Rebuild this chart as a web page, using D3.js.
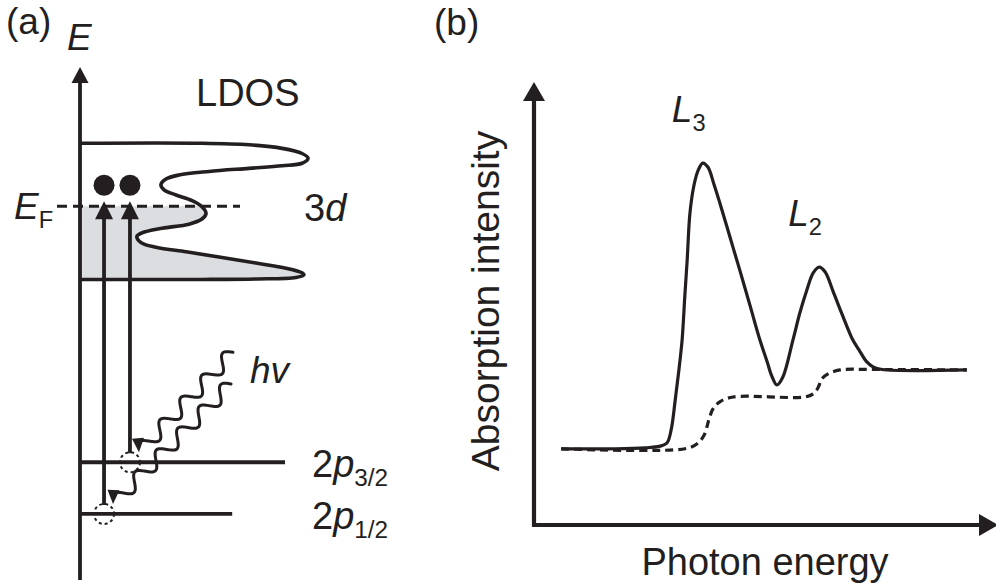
<!DOCTYPE html>
<html>
<head>
<meta charset="utf-8">
<script src="https://cdn.jsdelivr.net/npm/d3@7"></script>
<style>
  body { margin: 0; background: #fff; }
  text { font-family: "Liberation Sans", Arial, Helvetica, sans-serif; fill: #231f20; }
</style>
</head>
<body>
<div id="chart"></div>
<script>
// ---- (a) energy diagram: 3d LDOS and 2p core levels (arb. units) ----
const ldosEnergy  = [85.3, 85.3, 85.0, 84.3, 83.3, 82.4, 81.4, 80.9, 80.4, 79.8, 79.1, 78.3, 77.2, 76.2,
                     75.2, 74.1, 72.9, 71.6, 70.5, 69.5, 68.7, 67.8, 67.1, 65.9, 65.0, 64.1, 63.1, 61.9,
                     60.9, 60.0, 59.6, 59.1, 58.8, 58.7, 58.7];
const ldosDensity = [0, 50.4, 70, 83.8, 92.1, 94.6, 92.1, 83.8, 70, 53.3, 40.8, 35.4, 33.3, 34.6,
                     39.6, 46.3, 50.4, 52.1, 50.4, 45, 33.8, 25.4, 23.3, 25, 31.3, 43.8, 57.5, 72.9,
                     85.4, 92.1, 92.9, 89.6, 72.9, 50.4, 0];
const fermiEnergy = 73.0;
const coreLevels  = ["3/2", "1/2"];
const coreEnergy  = [23.0, 12.9];
const electronDensity = [20.4, 9.6];   // where each 2p -> 3d transition is drawn
const excitedEnergy   = 77.1;

// ---- (b) L-edge absorption spectrum (arb. units) ----
const photonEnergy = [5.9, 16.5, 24.1, 27.4, 28.9, 29.8, 30.7, 31.5, 32.2, 32.8, 33.3, 33.9, 34.8, 35.7,
                      36.7, 37.8, 39.1, 40.4, 42.6, 44.8, 47.0, 49.1, 50.7, 51.7, 52.8, 54.1, 56.3, 57.8,
                      59.3, 60.7, 62.0, 63.3, 65.0, 66.5, 68.0, 69.3, 70.9, 72.2, 73.7, 75.7, 94.1];
const absorption   = [17.2, 17.2, 17.4, 17.8, 18.5, 21.4, 28.2, 35.0, 41.8, 51.9, 59.8, 70.4, 76.8, 80.1,
                      81.7, 80.8, 77.0, 72.7, 65.0, 57.3, 49.4, 41.8, 36.8, 33.6, 31.6, 33.4, 41.8, 47.9,
                      53.0, 56.9, 58.2, 57.1, 52.8, 48.8, 44.9, 41.8, 39.1, 37.0, 35.7, 35.1, 35.0];
const stepEnergy   = [5.9, 32.8, 35.4, 37.0, 38.0, 38.9, 40.4, 43.3, 58.9, 60.7, 61.7, 62.6, 63.9, 66.5, 73.7, 94.1];
const stepValue    = [17.2, 17.2, 18.3, 20.3, 23.7, 26.2, 27.8, 28.9, 28.9, 29.6, 30.9, 33.0, 34.1, 35.0, 35.1, 35.0];
const edgeNames    = ["3", "2"];
const edgeAt       = [36.7, 62.0];

const ink = "#231f20";
const svg = d3.select("#chart").append("svg")
  .attr("width", 996)
  .attr("height", 584);

// text with an italic/normal mix and an optional subscript
function label(x, y, parts, size, extra) {
  const t = svg.append("text")
    .attr("x", x).attr("y", y)
    .style("font-size", size + "px");
  parts.forEach(p => {
    const s = t.append("tspan").text(p.t);
    if (p.i) s.style("font-style", "italic");
    if (p.sub) s.style("font-size", "0.64em").attr("dy", "0.36em");
  });
  if (extra) extra(t);
  return t;
}

function arrowHead(g, tipX, tipY, angle, len, half) {
  const ux = Math.cos(angle), uy = Math.sin(angle);
  const bx = tipX - ux * len, by = tipY - uy * len;
  g.append("path")
    .attr("d", `M${tipX},${tipY}L${bx - uy * half},${by + ux * half}L${bx + uy * half},${by - ux * half}Z`)
    .attr("fill", ink);
}

// wavy photon line ending in an arrow head
function photon(g, x0, y0, x1, y1, waves, amp) {
  const dx = x1 - x0, dy = y1 - y0, len = Math.hypot(dx, dy);
  const nx = -dy / len, ny = dx / len;
  const pts = d3.range(0, 201).map(i => {
    const t = i / 200, s = amp * Math.sin(2 * Math.PI * waves * t);
    return [x0 + dx * t + nx * s, y0 + dy * t + ny * s];
  });
  const end = pts.length - 1;
  g.append("path")
    .attr("d", d3.line().curve(d3.curveBasis)(pts.slice(0, end - 7)))
    .attr("fill", "none").attr("stroke", ink).attr("stroke-width", 3)
    .attr("stroke-linecap", "round");
  const a = Math.atan2(pts[end][1] - pts[end - 9][1], pts[end][0] - pts[end - 9][0]);
  arrowHead(g, pts[end][0], pts[end][1], a, 14, 6);
}

// ================= panel (a) =================
const eY = d3.scaleLinear().domain([0, 100]).range([580, 68]);
const dX = d3.scaleLinear().domain([0, 100]).range([81, 321]);
const ga = svg.append("g");

const ldos = ldosEnergy.map((e, i) => [dX(ldosDensity[i]), eY(e)]);
const ldosLine = d3.line().curve(d3.curveCatmullRom.alpha(0.5));

// occupied part of the band below the Fermi level
ga.append("clipPath").attr("id", "occupied")
  .append("rect")
  .attr("x", 0).attr("y", eY(fermiEnergy))
  .attr("width", 400).attr("height", eY(ldosEnergy[ldosEnergy.length - 1]) - eY(fermiEnergy) + 2);
ga.append("path")
  .attr("d", ldosLine(ldos) + "Z")
  .attr("fill", "#dcdde0")
  .attr("clip-path", "url(#occupied)");

// Fermi level
ga.append("line")
  .attr("x1", 57).attr("x2", 240)
  .attr("y1", eY(fermiEnergy)).attr("y2", eY(fermiEnergy))
  .attr("stroke", ink).attr("stroke-width", 3.2)
  .attr("stroke-dasharray", "10,6");

ga.append("path")
  .attr("d", ldosLine(ldos))
  .attr("fill", "none").attr("stroke", ink).attr("stroke-width", 3.6);

// energy axis
ga.append("line")
  .attr("x1", 80).attr("x2", 80)
  .attr("y1", eY(0)).attr("y2", eY(100) + 12)
  .attr("stroke", ink).attr("stroke-width", 3.8);
arrowHead(ga, 80, eY(100) - 1, -Math.PI / 2, 16, 8.5);

// core levels
const levelReach = [85, 63];
coreEnergy.forEach((e, i) => {
  ga.append("line")
    .attr("x1", 80).attr("x2", dX(levelReach[i]))
    .attr("y1", eY(e)).attr("y2", eY(e))
    .attr("stroke", ink).attr("stroke-width", 3.8);
  label(312, eY(e) + 15, [{ t: "2" }, { t: "p", i: true }, { t: coreLevels[i], sub: true }], 38);
});

// 2p -> 3d transitions
const photonReach = [[94, -100], [118, -120]];
const photonWaves = [4.5, 5.5];
coreEnergy.forEach((e, i) => {
  const x = dX(electronDensity[i]), y = eY(e);
  ga.append("circle")
    .attr("cx", x).attr("cy", y).attr("r", 10)
    .attr("fill", "none").attr("stroke", ink).attr("stroke-width", 2)
    .attr("stroke-dasharray", "3,3");
  ga.append("line")
    .attr("x1", x).attr("x2", x)
    .attr("y1", y - 9).attr("y2", eY(fermiEnergy) + 10)
    .attr("stroke", ink).attr("stroke-width", 3.8);
  arrowHead(ga, x, eY(fermiEnergy) - 5, -Math.PI / 2, 18, 9);
  ga.append("circle")
    .attr("cx", x).attr("cy", eY(excitedEnergy)).attr("r", 10.5)
    .attr("fill", ink);
  const ex = x + 9, ey = y - 10;
  photon(ga, ex + photonReach[i][0], ey + photonReach[i][1], ex, ey, photonWaves[i], 7);
});

label(6, 34, [{ t: "(a)" }], 37);
label(67, 50, [{ t: "E", i: true }], 37);
label(196, 106, [{ t: "LDOS" }], 38);
label(14, eY(fermiEnergy) + 13, [{ t: "E", i: true }, { t: "F", sub: true }], 37);
label(304, eY(fermiEnergy) + 15, [{ t: "3" }, { t: "d", i: true }], 38);
label(250, 383, [{ t: "hv", i: true }], 37);

// ================= panel (b) =================
const x = d3.scaleLinear().domain([0, 100]).range([534, 994]);
const y = d3.scaleLinear().domain([0, 100]).range([525, 82]);
const gb = svg.append("g");
const smooth = d3.line().curve(d3.curveCatmullRom.alpha(0.5));

gb.append("path")
  .attr("d", smooth(stepEnergy.map((e, i) => [x(e), y(stepValue[i])])))
  .attr("fill", "none").attr("stroke", ink).attr("stroke-width", 3.2)
  .attr("stroke-dasharray", "8,5");

gb.append("path")
  .attr("d", smooth(photonEnergy.map((e, i) => [x(e), y(absorption[i])])))
  .attr("fill", "none").attr("stroke", ink).attr("stroke-width", 3.2);

// axes
gb.append("line")
  .attr("x1", x(0)).attr("x2", x(0))
  .attr("y1", y(0) + 2).attr("y2", y(100) + 14)
  .attr("stroke", ink).attr("stroke-width", 4.2);
arrowHead(gb, x(0), y(100), -Math.PI / 2, 19, 11);
gb.append("line")
  .attr("x1", x(0) - 2).attr("x2", 982)
  .attr("y1", y(0)).attr("y2", y(0))
  .attr("stroke", ink).attr("stroke-width", 4.2);
arrowHead(gb, 998, y(0), 0, 19, 11);

edgeNames.forEach((n, i) => {
  const peak = absorption[photonEnergy.indexOf(edgeAt[i])];
  label(x(edgeAt[i]) - 31, y(peak) - 41, [{ t: "L", i: true }, { t: n, sub: true }], 37);
});

label(434, 35, [{ t: "(b)" }], 37);
label(765, 575, [{ t: "Photon energy" }], 38, t => t.attr("text-anchor", "middle"));
label(0, 0, [{ t: "Absorption intensity" }], 39, t => t
  .attr("text-anchor", "middle")
  .attr("transform", "translate(499,301) rotate(-90)"));
</script>
</body>
</html>
